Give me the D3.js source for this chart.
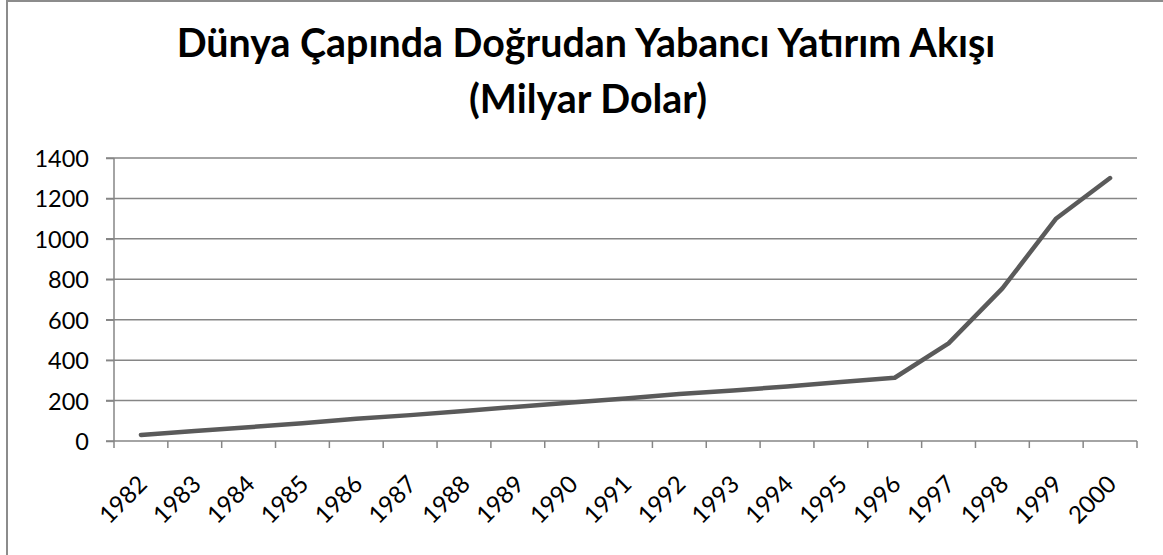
<!DOCTYPE html>
<html>
<head>
<meta charset="utf-8">
<script src="https://cdn.jsdelivr.net/npm/d3@7"></script>
<style>
  html, body { margin: 0; padding: 0; background: #fff; }
  svg { display: block; }
</style>
</head>
<body>
<svg id="chart" width="1163" height="555"></svg>
<script>
const titleLines = ["Dünya Çapında Doğrudan Yabancı Yatırım Akışı", "(Milyar Dolar)"];
const years = ["1982","1983","1984","1985","1986","1987","1988","1989","1990","1991","1992","1993","1994","1995","1996","1997","1998","1999","2000"];
const flows = [30, 50, 68, 88, 110, 128, 148, 170, 190, 210, 232, 250, 270, 292, 313, 483, 755, 1101, 1301];
const yTicks = [0, 200, 400, 600, 800, 1000, 1200, 1400];

const svg = d3.select("#chart");
const FONT = "Lato, 'Open Sans', sans-serif";
const gridColor = "#868686";

// outer border (only left/top visible in reference)
svg.append("rect")
  .attr("x", 7).attr("y", 1)
  .attr("width", 1200).attr("height", 600)
  .attr("fill", "none").attr("stroke", "#8c8c8c").attr("stroke-width", 2);

const plot = { left: 114, right: 1137, top: 158, bottom: 441 };

const x = d3.scaleBand().domain(years).range([plot.left, plot.right]).paddingInner(0).paddingOuter(0);
const y = d3.scaleLinear().domain([0, 1400]).range([plot.bottom, plot.top]);

// gridlines
svg.append("g")
  .selectAll("line").data(yTicks.filter(d => d > 0)).join("line")
  .attr("x1", plot.left - 8).attr("x2", plot.right)
  .attr("y1", d => y(d)).attr("y2", d => y(d))
  .attr("stroke", gridColor).attr("stroke-width", 1.5);

// y axis
const yAxis = svg.append("g")
  .attr("transform", `translate(${plot.left},0)`)
  .call(d3.axisLeft(y).tickValues(yTicks).tickSize(8).tickPadding(17).tickFormat(d3.format("d")));
yAxis.select(".domain").attr("stroke", gridColor).attr("stroke-width", 1.5).attr("d", `M0,${plot.top}V${plot.bottom}`);
yAxis.selectAll(".tick line").attr("stroke", gridColor).attr("stroke-width", 1.5);
yAxis.selectAll(".tick text")
  .attr("fill", "#000").attr("font-family", FONT).attr("font-size", 23.5)
  .attr("dy", "0.36em");

// x axis line + ticks at band boundaries
const xg = svg.append("g");
xg.append("line")
  .attr("x1", plot.left - 8).attr("x2", plot.right)
  .attr("y1", plot.bottom).attr("y2", plot.bottom)
  .attr("stroke", gridColor).attr("stroke-width", 1.5);
const boundaries = years.map(d => x(d)).concat([x(years[years.length - 1]) + x.bandwidth()]);
xg.selectAll("line.tk").data(boundaries).join("line").attr("class", "tk")
  .attr("x1", d => d).attr("x2", d => d)
  .attr("y1", plot.bottom).attr("y2", plot.bottom + 7)
  .attr("stroke", gridColor).attr("stroke-width", 1.5);

// x labels rotated
xg.selectAll("text").data(years).join("text")
  .attr("transform", d => `translate(${x(d) + x.bandwidth() / 2 + 1},${479}) rotate(-45)`)
  .attr("text-anchor", "end")
  .attr("dominant-baseline", "central")
  .attr("font-family", FONT).attr("font-size", 24).attr("fill", "#000")
  .text(d => d);

// line
const line = d3.line()
  .x((d, i) => x(years[i]) + x.bandwidth() / 2)
  .y(d => y(d));
svg.append("path")
  .datum(flows)
  .attr("d", line)
  .attr("fill", "none")
  .attr("stroke", "#5a5a5a")
  .attr("stroke-width", 4.5)
  .attr("stroke-linejoin", "round")
  .attr("stroke-linecap", "round");

// title
const tg = svg.append("g");
const t1 = tg.append("text")
  .attr("x", 586).attr("y", 57)
  .attr("text-anchor", "middle")
  .attr("font-family", FONT).attr("font-weight", "bold").attr("font-size", 30)
  .attr("fill", "#000")
  .text(titleLines[0]);
const w = t1.node().getComputedTextLength();
const fs = 30 * 819 / w;
t1.attr("font-size", fs);
tg.append("text")
  .attr("x", 588).attr("y", 113)
  .attr("text-anchor", "middle")
  .attr("font-family", FONT).attr("font-weight", "bold").attr("font-size", fs)
  .attr("fill", "#000")
  .text(titleLines[1]);
</script>
</body>
</html>
